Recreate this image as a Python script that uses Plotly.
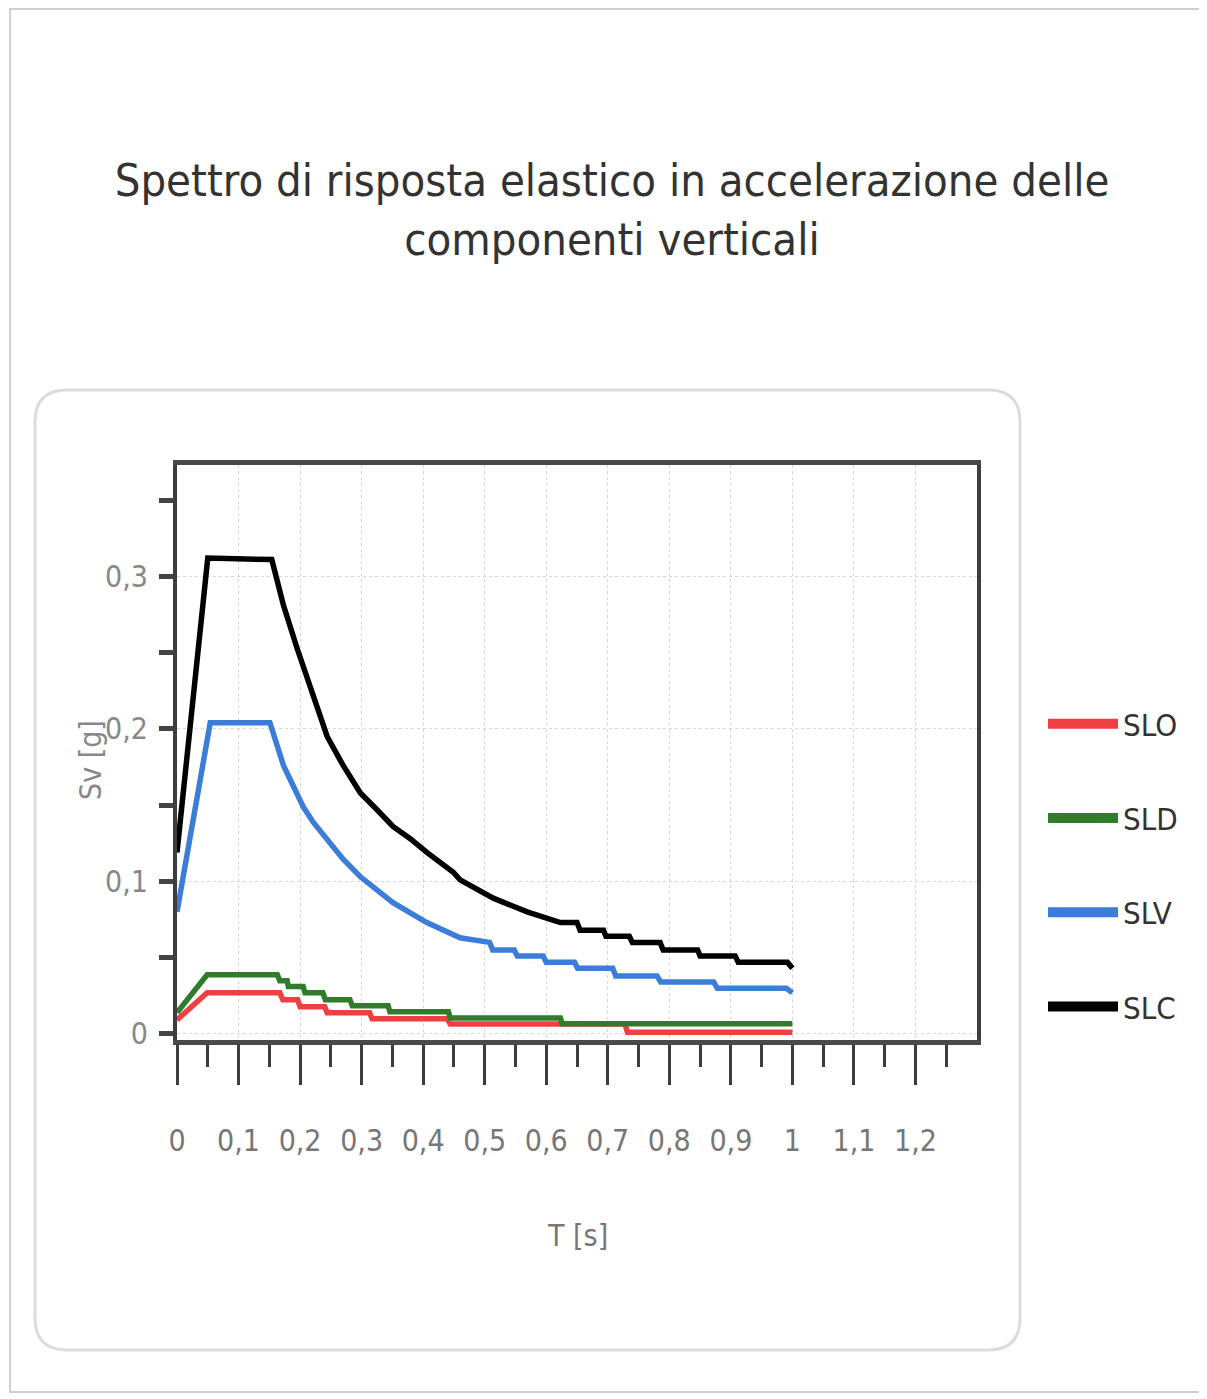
import plotly.graph_objects as go

# ---- data ----
SERIES = ["SLO", "SLD", "SLV", "SLC"]
COLORS = ["#f03f43", "#2f7d2b", "#3b7dd8", "#000000"]

T_SLO = [0, 0.049, 0.167, 0.172, 0.196, 0.200, 0.240, 0.244, 0.313, 0.317, 0.439, 0.444, 0.728, 0.732, 1.0]
SV_SLO = [0.0092, 0.027, 0.027, 0.0224, 0.0224, 0.0178, 0.0178, 0.0138, 0.0138, 0.0099, 0.0099, 0.0065, 0.0065, 0.001, 0.001]

T_SLD = [0, 0.049, 0.163, 0.167, 0.179, 0.181, 0.205, 0.208, 0.237, 0.241, 0.281, 0.285, 0.343, 0.346, 0.441, 0.444, 0.623, 0.626, 1.0]
SV_SLD = [0.014, 0.0388, 0.0388, 0.0349, 0.0349, 0.031, 0.031, 0.027, 0.027, 0.0224, 0.0224, 0.0184, 0.0184, 0.0145, 0.0145, 0.0105, 0.0105, 0.0066, 0.0066]

T_SLV = [0, 0.054, 0.151, 0.173, 0.189, 0.205, 0.221, 0.244, 0.270, 0.298, 0.351, 0.406, 0.46, 0.508, 0.513, 0.548, 0.553, 0.595, 0.600, 0.646, 0.651, 0.708, 0.713, 0.780, 0.786, 0.872, 0.878, 0.990, 1.0]
SV_SLV = [0.080, 0.204, 0.204, 0.176, 0.1625, 0.149, 0.139, 0.127, 0.1145, 0.103, 0.086, 0.073, 0.063, 0.060, 0.055, 0.055, 0.051, 0.051, 0.047, 0.047, 0.043, 0.043, 0.038, 0.038, 0.034, 0.034, 0.030, 0.030, 0.027]

T_SLC = [0, 0.05, 0.154, 0.173, 0.195, 0.216, 0.244, 0.270, 0.298, 0.325, 0.351, 0.379, 0.406, 0.449, 0.46, 0.514, 0.569, 0.623, 0.650, 0.655, 0.693, 0.697, 0.735, 0.740, 0.785, 0.790, 0.846, 0.850, 0.907, 0.912, 0.992, 1.0]
SV_SLC = [0.119, 0.312, 0.311, 0.281, 0.253, 0.228, 0.195, 0.176, 0.158, 0.147, 0.136, 0.128, 0.119, 0.106, 0.101, 0.089, 0.080, 0.073, 0.073, 0.068, 0.068, 0.064, 0.064, 0.060, 0.060, 0.055, 0.055, 0.051, 0.051, 0.047, 0.047, 0.043]

DATA_T = [T_SLO, T_SLD, T_SLV, T_SLC]
DATA_SV = [SV_SLO, SV_SLD, SV_SLV, SV_SLC]

X_TICKS = [0, 0.1, 0.2, 0.3, 0.4, 0.5, 0.6, 0.7, 0.8, 0.9, 1.0, 1.1, 1.2]
X_MINOR = [0.05, 0.15, 0.25, 0.35, 0.45, 0.55, 0.65, 0.75, 0.85, 0.95, 1.05, 1.15, 1.25]

TITLE = "Spettro di risposta elastico in accelerazione delle<br>componenti verticali"
X_TITLE = "T [s]"
Y_TITLE = "Sv [g]"

FONT = "DejaVu Sans Condensed, Liberation Sans Narrow, DejaVu Sans, sans-serif"

OFF = 8  # page body margin
W, H = 1199, 1391
# plot area in screen pixels of the reference
SL, SR, ST, SB = 177, 977, 465, 1040
L, R, T, B = SL - OFF, SR - OFF, ST - OFF, SB - OFF


def px(sx):
    return (sx - SL) / (SR - SL)


def py(sy):
    return (SB - sy) / (SB - ST)


fig = go.Figure()
for name, col, tx, sv in zip(SERIES, COLORS, DATA_T, DATA_SV):
    fig.add_trace(go.Scatter(x=tx, y=sv, mode="lines", name=name, legendgroup=name,
                             showlegend=False, line=dict(color=col, width=5.5)))
for name, col in zip(SERIES, COLORS):
    fig.add_trace(go.Scatter(x=[None], y=[None], mode="lines", name=name, legendgroup=name,
                             showlegend=True, line=dict(color=col, width=12)))

# page border and rounded panel
shapes = [
    dict(type="rect", xref="paper", yref="paper", x0=px(10), x1=px(1200), y0=py(1392), y1=py(9),
         line=dict(color="#cfcfcf", width=2), layer="below"),
]
x0, x1, y0, y1, r = 35, 1020, 390, 1350, 32
path = (f"M {px(x0 + r)},{py(y0)} L {px(x1 - r)},{py(y0)} Q {px(x1)},{py(y0)} {px(x1)},{py(y0 + r)} "
        f"L {px(x1)},{py(y1 - r)} Q {px(x1)},{py(y1)} {px(x1 - r)},{py(y1)} "
        f"L {px(x0 + r)},{py(y1)} Q {px(x0)},{py(y1)} {px(x0)},{py(y1 - r)} "
        f"L {px(x0)},{py(y0 + r)} Q {px(x0)},{py(y0)} {px(x0 + r)},{py(y0)} Z")
shapes.append(dict(type="path", xref="paper", yref="paper", path=path,
                   line=dict(color="#dcdcdc", width=3), fillcolor="rgba(0,0,0,0)", layer="below"))

fig.update_layout(
    width=W, height=H,
    margin=dict(l=L, r=W - R, t=T, b=H - B, pad=0),
    paper_bgcolor="white", plot_bgcolor="white",
    separators=",.",
    title=dict(text=TITLE, x=(612 - OFF) / W, xref="container", y=1 - (196 - OFF) / H, yref="container",
               xanchor="center", yanchor="middle",
               font=dict(family=FONT, size=45, color="#333333")),
    showlegend=True,
    legend=dict(x=px(1043), xanchor="left", y=py(697), yanchor="top",
                font=dict(family=FONT, size=31, color="#333333"),
                itemwidth=70, tracegroupgap=51, traceorder="grouped",
                bgcolor="rgba(0,0,0,0)"),
    shapes=shapes,
    annotations=[
        dict(text=X_TITLE, xref="paper", yref="paper", x=0.5, y=py(1235), showarrow=False,
             xanchor="center", yanchor="middle", font=dict(family=FONT, size=30, color="#777777")),
        dict(text=Y_TITLE, xref="paper", yref="paper", x=px(90), y=py(760), showarrow=False,
             textangle=-90, xanchor="center", yanchor="middle",
             font=dict(family=FONT, size=30, color="#888888")),
    ],
)

fig.update_xaxes(
    range=[0, 1.3], tickmode="array", tickvals=X_TICKS, ticks="outside", ticklen=40, tickwidth=3,
    tickcolor="#3d3d3d", showline=True, linecolor="#4a4a4a", linewidth=5, mirror=True,
    showgrid=True, gridcolor="#d6d6d6", griddash="dot", gridwidth=1, zeroline=False,
    tickfont=dict(family=FONT, size=30, color="#777777"), ticklabelstandoff=30,
    minor=dict(tickmode="array", tickvals=X_MINOR, ticks="outside", ticklen=22, tickwidth=3,
               tickcolor="#3d3d3d", showgrid=False),
)
fig.update_yaxes(
    range=[-0.004, 0.373], dtick=0.1, tick0=0, ticks="outside", ticklen=14, tickwidth=5,
    tickcolor="#444444", showline=True, linecolor="#3d3d3d", linewidth=4, mirror=True,
    showgrid=True, gridcolor="#d6d6d6", griddash="dot", gridwidth=1, zeroline=False,
    tickfont=dict(family=FONT, size=30, color="#888888"), ticklabelstandoff=5,
    minor=dict(dtick=0.05, tick0=0, ticks="outside", ticklen=14, tickwidth=5,
               tickcolor="#444444", showgrid=False),
)

fig.write_html("out.html")
